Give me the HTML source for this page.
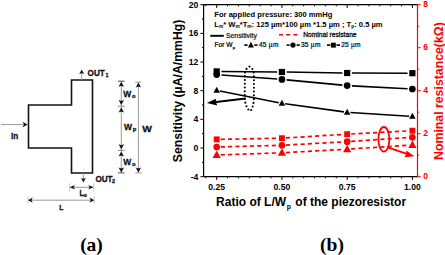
<!DOCTYPE html>
<html><head><meta charset="utf-8">
<style>
html,body{margin:0;padding:0;background:#fff;width:445px;height:255px;overflow:hidden}
svg{display:block}
text{font-family:"Liberation Sans",sans-serif}
.serif{font-family:"Liberation Serif",serif}
</style></head><body>
<svg width="445" height="255" viewBox="0 0 445 255">
<!-- ============ (a) diagram ============ -->
<path d="M28.5 105 H71.5 V80 H92.5 V173 H71.5 V148 H28.5 Z" fill="none" stroke="#111" stroke-width="1.6"/>
<!-- In arrow -->
<line x1="1" y1="124.6" x2="27" y2="124.6" stroke="#999" stroke-width="1"/>
<path d="M22.5 121.8 L27.5 124.6 L22.5 127.4 L24 124.6 Z" fill="#111"/>
<text x="11" y="139" font-size="9.6" font-weight="bold" fill="#111" stroke="#111" stroke-width="0.3" textLength="7.2" lengthAdjust="spacingAndGlyphs">In</text>
<!-- OUT1 -->
<line x1="81.7" y1="80" x2="81.7" y2="71" stroke="#999" stroke-width="1"/>
<path d="M79.2 74.2 L81.7 69.6 L84.2 74.2 L81.7 73 Z" fill="#111"/>
<text x="87.6" y="75.5" font-size="8.3" font-weight="bold" fill="#111" stroke="#111" stroke-width="0.3" textLength="17.1" lengthAdjust="spacingAndGlyphs">OUT</text>
<text x="105.6" y="76.5" font-size="5.4" font-weight="bold" fill="#111" stroke="#111" stroke-width="0.3">1</text>
<!-- OUT2 -->
<line x1="83.4" y1="173" x2="83.4" y2="181" stroke="#999" stroke-width="1"/>
<path d="M80.9 177.8 L83.4 182.4 L85.9 177.8 L83.4 179 Z" fill="#111"/>
<text x="95.4" y="181.8" font-size="8.3" font-weight="bold" fill="#111" stroke="#111" stroke-width="0.3" textLength="17.1" lengthAdjust="spacingAndGlyphs">OUT</text>
<text x="111.9" y="182.5" font-size="5.4" font-weight="bold" fill="#111" stroke="#111" stroke-width="0.3">2</text>
<!-- Lo dimension -->
<line x1="70" y1="187.3" x2="93" y2="187.3" stroke="#888" stroke-width="0.9"/>
<path d="M69.9 187.3 L75 185 L73.6 187.3 L75 189.6 Z" fill="#111"/>
<path d="M93.4 187.3 L88.3 185 L89.7 187.3 L88.3 189.6 Z" fill="#111"/>
<line x1="69.6" y1="183.2" x2="69.6" y2="191.4" stroke="#bbb" stroke-width="0.8"/>
<line x1="93.6" y1="183.2" x2="93.6" y2="191.4" stroke="#bbb" stroke-width="0.8"/>
<text x="79.6" y="196" font-size="8.6" font-weight="bold" fill="#111" stroke="#111" stroke-width="0.3" textLength="4.4" lengthAdjust="spacingAndGlyphs">L</text>
<text x="83.6" y="196.6" font-size="5.6" font-weight="bold" fill="#111" stroke="#111" stroke-width="0.3">o</text>
<!-- L dimension -->
<line x1="28" y1="200.2" x2="94" y2="200.2" stroke="#999" stroke-width="1"/>
<path d="M28 200.2 L32.8 197.6 L31.4 200.2 L32.8 202.8 Z" fill="#111"/>
<path d="M94.2 200.2 L89.4 197.6 L90.8 200.2 L89.4 202.8 Z" fill="#111"/>
<line x1="28" y1="196.3" x2="28" y2="203.5" stroke="#bbb" stroke-width="0.8"/>
<line x1="94.2" y1="196.3" x2="94.2" y2="203.5" stroke="#bbb" stroke-width="0.8"/>
<text x="59.2" y="209.8" font-size="7.5" font-weight="bold" fill="#111" stroke="#111" stroke-width="0.3" textLength="4.2" lengthAdjust="spacingAndGlyphs">L</text>
<!-- W dimensions -->
<line x1="121.3" y1="81.3" x2="121.3" y2="172.9" stroke="#9a9a9a" stroke-width="1"/>
<line x1="118.0" y1="81.2" x2="124.6" y2="81.2" stroke="#444" stroke-width="1"/>
<line x1="118.0" y1="106.2" x2="124.6" y2="106.2" stroke="#888" stroke-width="1"/>
<line x1="118.0" y1="150.4" x2="124.6" y2="150.4" stroke="#888" stroke-width="1"/>
<line x1="118.0" y1="172.9" x2="124.6" y2="172.9" stroke="#555" stroke-width="1"/>
<g fill="#111">
<path d="M121.3 81.8 L118.60 86.80 L121.3 85.70 L124.00 86.80 Z"/>
<path d="M121.3 104.9 L118.60 99.90 L121.3 101.00 L124.00 99.90 Z"/>
<path d="M121.3 107.5 L118.60 112.50 L121.3 111.40 L124.00 112.50 Z"/>
<path d="M121.3 149.2 L118.60 144.20 L121.3 145.30 L124.00 144.20 Z"/>
<path d="M121.3 151.6 L118.60 156.60 L121.3 155.50 L124.00 156.60 Z"/>
<path d="M121.3 172.4 L118.60 167.40 L121.3 168.50 L124.00 167.40 Z"/>
</g>
<line x1="138.4" y1="82.1" x2="138.4" y2="172.9" stroke="#9a9a9a" stroke-width="1"/>
<line x1="135.20000000000002" y1="82.1" x2="141.6" y2="82.1" stroke="#999" stroke-width="1"/>
<line x1="135.20000000000002" y1="172.9" x2="141.6" y2="172.9" stroke="#999" stroke-width="1"/>
<g fill="#111">
<path d="M138.4 82.6 L135.70 87.60 L138.4 86.50 L141.10 87.60 Z"/>
<path d="M138.4 172.4 L135.70 167.40 L138.4 168.50 L141.10 167.40 Z"/>
</g>
<text x="123.3" y="97" font-size="9.2" font-weight="bold" fill="#111" stroke="#111" stroke-width="0.3" textLength="8" lengthAdjust="spacingAndGlyphs">W</text>
<text x="132" y="97.6" font-size="5.8" font-weight="bold" fill="#111" stroke="#111" stroke-width="0.3">o</text>
<text x="124.1" y="130.2" font-size="9.2" font-weight="bold" fill="#111" stroke="#111" stroke-width="0.3" textLength="8" lengthAdjust="spacingAndGlyphs">W</text>
<text x="132.8" y="131" font-size="5.8" font-weight="bold" fill="#111" stroke="#111" stroke-width="0.3">p</text>
<text x="123.3" y="165.2" font-size="9.2" font-weight="bold" fill="#111" stroke="#111" stroke-width="0.3" textLength="8" lengthAdjust="spacingAndGlyphs">W</text>
<text x="132" y="165.8" font-size="5.8" font-weight="bold" fill="#111" stroke="#111" stroke-width="0.3">o</text>
<text x="142.3" y="131.6" font-size="9" font-weight="bold" fill="#111" stroke="#111" stroke-width="0.3" textLength="9.6" lengthAdjust="spacingAndGlyphs">W</text>

<line x1="205.83" y1="176.7" x2="205.83" y2="178.29999999999998" stroke="#000" stroke-width="1"/>
<line x1="205.83" y1="4.7" x2="205.83" y2="6.300000000000001" stroke="#000" stroke-width="1"/>
<line x1="216.70" y1="176.7" x2="216.70" y2="179.89999999999998" stroke="#000" stroke-width="1"/>
<line x1="216.70" y1="4.7" x2="216.70" y2="7.9" stroke="#000" stroke-width="1"/>
<line x1="227.57" y1="176.7" x2="227.57" y2="178.29999999999998" stroke="#000" stroke-width="1"/>
<line x1="227.57" y1="4.7" x2="227.57" y2="6.300000000000001" stroke="#000" stroke-width="1"/>
<line x1="238.44" y1="176.7" x2="238.44" y2="178.29999999999998" stroke="#000" stroke-width="1"/>
<line x1="238.44" y1="4.7" x2="238.44" y2="6.300000000000001" stroke="#000" stroke-width="1"/>
<line x1="249.31" y1="176.7" x2="249.31" y2="178.29999999999998" stroke="#000" stroke-width="1"/>
<line x1="249.31" y1="4.7" x2="249.31" y2="6.300000000000001" stroke="#000" stroke-width="1"/>
<line x1="260.19" y1="176.7" x2="260.19" y2="178.29999999999998" stroke="#000" stroke-width="1"/>
<line x1="260.19" y1="4.7" x2="260.19" y2="6.300000000000001" stroke="#000" stroke-width="1"/>
<line x1="271.06" y1="176.7" x2="271.06" y2="178.29999999999998" stroke="#000" stroke-width="1"/>
<line x1="271.06" y1="4.7" x2="271.06" y2="6.300000000000001" stroke="#000" stroke-width="1"/>
<line x1="281.93" y1="176.7" x2="281.93" y2="179.89999999999998" stroke="#000" stroke-width="1"/>
<line x1="281.93" y1="4.7" x2="281.93" y2="7.9" stroke="#000" stroke-width="1"/>
<line x1="292.80" y1="176.7" x2="292.80" y2="178.29999999999998" stroke="#000" stroke-width="1"/>
<line x1="292.80" y1="4.7" x2="292.80" y2="6.300000000000001" stroke="#000" stroke-width="1"/>
<line x1="303.67" y1="176.7" x2="303.67" y2="178.29999999999998" stroke="#000" stroke-width="1"/>
<line x1="303.67" y1="4.7" x2="303.67" y2="6.300000000000001" stroke="#000" stroke-width="1"/>
<line x1="314.54" y1="176.7" x2="314.54" y2="178.29999999999998" stroke="#000" stroke-width="1"/>
<line x1="314.54" y1="4.7" x2="314.54" y2="6.300000000000001" stroke="#000" stroke-width="1"/>
<line x1="325.42" y1="176.7" x2="325.42" y2="178.29999999999998" stroke="#000" stroke-width="1"/>
<line x1="325.42" y1="4.7" x2="325.42" y2="6.300000000000001" stroke="#000" stroke-width="1"/>
<line x1="336.29" y1="176.7" x2="336.29" y2="178.29999999999998" stroke="#000" stroke-width="1"/>
<line x1="336.29" y1="4.7" x2="336.29" y2="6.300000000000001" stroke="#000" stroke-width="1"/>
<line x1="347.16" y1="176.7" x2="347.16" y2="179.89999999999998" stroke="#000" stroke-width="1"/>
<line x1="347.16" y1="4.7" x2="347.16" y2="7.9" stroke="#000" stroke-width="1"/>
<line x1="358.03" y1="176.7" x2="358.03" y2="178.29999999999998" stroke="#000" stroke-width="1"/>
<line x1="358.03" y1="4.7" x2="358.03" y2="6.300000000000001" stroke="#000" stroke-width="1"/>
<line x1="368.90" y1="176.7" x2="368.90" y2="178.29999999999998" stroke="#000" stroke-width="1"/>
<line x1="368.90" y1="4.7" x2="368.90" y2="6.300000000000001" stroke="#000" stroke-width="1"/>
<line x1="379.77" y1="176.7" x2="379.77" y2="178.29999999999998" stroke="#000" stroke-width="1"/>
<line x1="379.77" y1="4.7" x2="379.77" y2="6.300000000000001" stroke="#000" stroke-width="1"/>
<line x1="390.65" y1="176.7" x2="390.65" y2="178.29999999999998" stroke="#000" stroke-width="1"/>
<line x1="390.65" y1="4.7" x2="390.65" y2="6.300000000000001" stroke="#000" stroke-width="1"/>
<line x1="401.52" y1="176.7" x2="401.52" y2="178.29999999999998" stroke="#000" stroke-width="1"/>
<line x1="401.52" y1="4.7" x2="401.52" y2="6.300000000000001" stroke="#000" stroke-width="1"/>
<line x1="412.39" y1="176.7" x2="412.39" y2="179.89999999999998" stroke="#000" stroke-width="1"/>
<line x1="412.39" y1="4.7" x2="412.39" y2="7.9" stroke="#000" stroke-width="1"/>
<line x1="200.4" y1="176.70" x2="203.6" y2="176.70" stroke="#000" stroke-width="1"/>
<text x="198.29999999999998" y="179.80" font-size="8.6" font-weight="bold" text-anchor="end">-4</text>
<line x1="202.0" y1="162.37" x2="203.6" y2="162.37" stroke="#000" stroke-width="1"/>
<line x1="200.4" y1="148.03" x2="203.6" y2="148.03" stroke="#000" stroke-width="1"/>
<text x="198.29999999999998" y="151.13" font-size="8.6" font-weight="bold" text-anchor="end">0</text>
<line x1="202.0" y1="133.70" x2="203.6" y2="133.70" stroke="#000" stroke-width="1"/>
<line x1="200.4" y1="119.37" x2="203.6" y2="119.37" stroke="#000" stroke-width="1"/>
<text x="198.29999999999998" y="122.47" font-size="8.6" font-weight="bold" text-anchor="end">4</text>
<line x1="202.0" y1="105.03" x2="203.6" y2="105.03" stroke="#000" stroke-width="1"/>
<line x1="200.4" y1="90.70" x2="203.6" y2="90.70" stroke="#000" stroke-width="1"/>
<text x="198.29999999999998" y="93.80" font-size="8.6" font-weight="bold" text-anchor="end">8</text>
<line x1="202.0" y1="76.37" x2="203.6" y2="76.37" stroke="#000" stroke-width="1"/>
<line x1="200.4" y1="62.03" x2="203.6" y2="62.03" stroke="#000" stroke-width="1"/>
<text x="198.29999999999998" y="65.13" font-size="8.6" font-weight="bold" text-anchor="end">12</text>
<line x1="202.0" y1="47.70" x2="203.6" y2="47.70" stroke="#000" stroke-width="1"/>
<line x1="200.4" y1="33.37" x2="203.6" y2="33.37" stroke="#000" stroke-width="1"/>
<text x="198.29999999999998" y="36.47" font-size="8.6" font-weight="bold" text-anchor="end">16</text>
<line x1="202.0" y1="19.03" x2="203.6" y2="19.03" stroke="#000" stroke-width="1"/>
<line x1="200.4" y1="4.70" x2="203.6" y2="4.70" stroke="#000" stroke-width="1"/>
<text x="198.29999999999998" y="7.80" font-size="8.6" font-weight="bold" text-anchor="end">20</text>
<line x1="417.5" y1="176.70" x2="420.7" y2="176.70" stroke="#f00" stroke-width="1"/>
<text x="423.2" y="179.30" font-size="8.6" font-weight="bold" fill="#f00">0</text>
<line x1="417.5" y1="155.20" x2="419.1" y2="155.20" stroke="#f00" stroke-width="1"/>
<line x1="417.5" y1="133.70" x2="420.7" y2="133.70" stroke="#f00" stroke-width="1"/>
<text x="423.2" y="136.30" font-size="8.6" font-weight="bold" fill="#f00">2</text>
<line x1="417.5" y1="112.20" x2="419.1" y2="112.20" stroke="#f00" stroke-width="1"/>
<line x1="417.5" y1="90.70" x2="420.7" y2="90.70" stroke="#f00" stroke-width="1"/>
<text x="423.2" y="93.30" font-size="8.6" font-weight="bold" fill="#f00">4</text>
<line x1="417.5" y1="69.20" x2="419.1" y2="69.20" stroke="#f00" stroke-width="1"/>
<line x1="417.5" y1="47.70" x2="420.7" y2="47.70" stroke="#f00" stroke-width="1"/>
<text x="423.2" y="50.30" font-size="8.6" font-weight="bold" fill="#f00">6</text>
<line x1="417.5" y1="26.20" x2="419.1" y2="26.20" stroke="#f00" stroke-width="1"/>
<line x1="417.5" y1="4.70" x2="420.7" y2="4.70" stroke="#f00" stroke-width="1"/>
<text x="423.2" y="7.30" font-size="8.6" font-weight="bold" fill="#f00">8</text>
<text x="216.70" y="189.6" font-size="8.6" font-weight="bold" text-anchor="middle">0.25</text>
<text x="281.93" y="189.6" font-size="8.6" font-weight="bold" text-anchor="middle">0.50</text>
<text x="347.16" y="189.6" font-size="8.6" font-weight="bold" text-anchor="middle">0.75</text>
<text x="412.39" y="189.6" font-size="8.6" font-weight="bold" text-anchor="middle">1.00</text>
<path d="M203.6 176.7 V4.7 H417.5" fill="none" stroke="#000" stroke-width="1.2"/>
<line x1="203.6" y1="176.7" x2="417.5" y2="176.7" stroke="#000" stroke-width="1.2"/>
<line x1="417.5" y1="4.1000000000000005" x2="417.5" y2="177.29999999999998" stroke="#f00" stroke-width="1.2"/>
<line x1="219.84" y1="91.02" x2="278.79" y2="102.68" stroke="#000" stroke-width="1.6"/>
<line x1="285.10" y1="103.74" x2="343.99" y2="111.86" stroke="#000" stroke-width="1.6"/>
<line x1="350.35" y1="112.50" x2="409.20" y2="116.20" stroke="#000" stroke-width="1.6"/>
<line x1="221.49" y1="74.95" x2="277.14" y2="79.05" stroke="#000" stroke-width="1.6"/>
<line x1="286.71" y1="79.85" x2="342.38" y2="85.15" stroke="#000" stroke-width="1.6"/>
<line x1="351.95" y1="85.85" x2="407.60" y2="88.75" stroke="#000" stroke-width="1.6"/>
<line x1="221.50" y1="71.44" x2="277.13" y2="71.96" stroke="#000" stroke-width="1.6"/>
<line x1="286.73" y1="72.07" x2="342.36" y2="72.93" stroke="#000" stroke-width="1.6"/>
<line x1="351.96" y1="73.01" x2="407.59" y2="73.19" stroke="#000" stroke-width="1.6"/>
<path d="M216.70 86.87 L219.95 92.76 L213.44 92.76 Z" fill="#000"/>
<path d="M281.93 99.77 L285.19 105.66 L278.68 105.66 Z" fill="#000"/>
<path d="M347.16 108.77 L350.41 114.66 L343.90 114.66 Z" fill="#000"/>
<path d="M412.39 112.87 L415.64 118.76 L409.13 118.76 Z" fill="#000"/>
<circle cx="216.70" cy="74.60" r="3.35" fill="#000"/>
<circle cx="281.93" cy="79.40" r="3.35" fill="#000"/>
<circle cx="347.16" cy="85.60" r="3.35" fill="#000"/>
<circle cx="412.39" cy="89.00" r="3.35" fill="#000"/>
<rect x="213.60" y="68.30" width="6.2" height="6.2" fill="#000"/>
<rect x="278.83" y="68.90" width="6.2" height="6.2" fill="#000"/>
<rect x="344.06" y="69.90" width="6.2" height="6.2" fill="#000"/>
<rect x="409.29" y="70.10" width="6.2" height="6.2" fill="#000"/>
<line x1="220.70" y1="154.87" x2="277.93" y2="152.93" stroke="#f00" stroke-width="1.7" stroke-dasharray="4.2 3.1"/>
<line x1="285.92" y1="152.58" x2="343.17" y2="149.42" stroke="#f00" stroke-width="1.7" stroke-dasharray="4.2 3.1"/>
<line x1="351.15" y1="148.94" x2="408.40" y2="145.26" stroke="#f00" stroke-width="1.7" stroke-dasharray="4.2 3.1"/>
<line x1="220.70" y1="146.90" x2="277.93" y2="145.40" stroke="#f00" stroke-width="1.7" stroke-dasharray="4.2 3.1"/>
<line x1="285.92" y1="145.08" x2="343.17" y2="141.92" stroke="#f00" stroke-width="1.7" stroke-dasharray="4.2 3.1"/>
<line x1="351.15" y1="141.43" x2="408.40" y2="137.57" stroke="#f00" stroke-width="1.7" stroke-dasharray="4.2 3.1"/>
<line x1="220.70" y1="139.33" x2="277.93" y2="138.27" stroke="#f00" stroke-width="1.7" stroke-dasharray="4.2 3.1"/>
<line x1="285.92" y1="137.96" x2="343.17" y2="134.44" stroke="#f00" stroke-width="1.7" stroke-dasharray="4.2 3.1"/>
<line x1="351.15" y1="133.99" x2="408.40" y2="130.91" stroke="#f00" stroke-width="1.7" stroke-dasharray="4.2 3.1"/>
<path d="M216.70 150.55 L220.79 157.96 L212.60 157.96 Z" fill="#f00"/>
<path d="M281.93 148.35 L286.03 155.76 L277.83 155.76 Z" fill="#f00"/>
<path d="M347.16 144.75 L351.25 152.16 L343.06 152.16 Z" fill="#f00"/>
<path d="M412.39 140.55 L416.49 147.96 L408.29 147.96 Z" fill="#f00"/>
<circle cx="216.70" cy="147.00" r="3.35" fill="#f00"/>
<circle cx="281.93" cy="145.30" r="3.35" fill="#f00"/>
<circle cx="347.16" cy="141.70" r="3.35" fill="#f00"/>
<circle cx="412.39" cy="137.30" r="3.35" fill="#f00"/>
<rect x="213.75" y="136.45" width="5.9" height="5.9" fill="#f00"/>
<rect x="278.98" y="135.25" width="5.9" height="5.9" fill="#f00"/>
<rect x="344.21" y="131.25" width="5.9" height="5.9" fill="#f00"/>
<rect x="409.44" y="127.75" width="5.9" height="5.9" fill="#f00"/>
<circle cx="249.50" cy="66.60" r="1.05" fill="#000"/><circle cx="246.50" cy="68.92" r="1.05" fill="#000"/><circle cx="245.04" cy="72.40" r="1.05" fill="#000"/><circle cx="244.80" cy="76.17" r="1.05" fill="#000"/><circle cx="244.80" cy="79.96" r="1.05" fill="#000"/><circle cx="244.80" cy="83.75" r="1.05" fill="#000"/><circle cx="244.80" cy="87.54" r="1.05" fill="#000"/><circle cx="244.80" cy="91.33" r="1.05" fill="#000"/><circle cx="244.80" cy="95.12" r="1.05" fill="#000"/><circle cx="244.90" cy="98.90" r="1.05" fill="#000"/><circle cx="245.35" cy="102.66" r="1.05" fill="#000"/><circle cx="246.45" cy="106.29" r="1.05" fill="#000"/><circle cx="248.33" cy="109.56" r="1.05" fill="#000"/><circle cx="251.12" cy="109.96" r="1.05" fill="#000"/><circle cx="252.68" cy="106.57" r="1.05" fill="#000"/><circle cx="253.50" cy="102.89" r="1.05" fill="#000"/><circle cx="253.90" cy="99.13" r="1.05" fill="#000"/><circle cx="253.90" cy="95.34" r="1.05" fill="#000"/><circle cx="253.90" cy="91.55" r="1.05" fill="#000"/><circle cx="253.90" cy="87.76" r="1.05" fill="#000"/><circle cx="253.90" cy="83.97" r="1.05" fill="#000"/><circle cx="253.90" cy="80.18" r="1.05" fill="#000"/><circle cx="253.90" cy="76.39" r="1.05" fill="#000"/><circle cx="253.61" cy="72.61" r="1.05" fill="#000"/><circle cx="252.41" cy="69.02" r="1.05" fill="#000"/>
<line x1="245.6" y1="98.4" x2="214" y2="102.3" stroke="#000" stroke-width="2"/>
<path d="M206.8 103 L215.9 98.7 L215.9 102.1 L217.3 105.4 Z" fill="#000"/>
<ellipse cx="383.85" cy="139.3" rx="5.5" ry="12.3" fill="none" stroke="#f00" stroke-width="1.8"/>
<line x1="387.6" y1="147.3" x2="407" y2="153.8" stroke="#f00" stroke-width="1.9"/>
<path d="M414.4 156.3 L406.4 150.6 L406.3 153.8 L404.4 157.2 Z" fill="#f00"/>
<text x="214.3" y="17.0" font-size="7.6" font-weight="bold">For applied pressure: 300 mmHg</text>
<text x="214.3" y="26.6" font-size="7.6" font-weight="bold">L<tspan font-size="4.8" dy="1.5">m</tspan><tspan dy="-1.5">* W</tspan><tspan font-size="4.8" dy="1.5">m</tspan><tspan dy="-1.5">*T</tspan><tspan font-size="4.8" dy="1.5">m</tspan><tspan dy="-1.5">: 125 µm*100 µm *1.5 µm ; T</tspan><tspan font-size="4.8" dy="1.5">p</tspan><tspan dy="-1.5">: 0.5 µm</tspan></text>
<line x1="210.3" y1="35.8" x2="223.8" y2="35.8" stroke="#000" stroke-width="1.9"/>
<text x="225.9" y="37.7" font-size="6.9" fill="#111" stroke="#111" stroke-width="0.22">Sensitivity</text>
<line x1="279" y1="34.7" x2="298" y2="34.7" stroke="#f00" stroke-width="1.6" stroke-dasharray="4 3.2"/>
<text x="303.3" y="36.9" font-size="6.67" fill="#111" stroke="#111" stroke-width="0.3">Nominal resistane</text>
<text x="214.5" y="47.2" font-size="6.6" fill="#000" stroke="#000" stroke-width="0.22">For W<tspan font-size="4.4" dy="2.0" dx="0.4">p</tspan></text>
<line x1="244.2" y1="45.1" x2="247.6" y2="45.1" stroke="#000" stroke-width="1.6"/>
<line x1="254.2" y1="45.1" x2="257.5" y2="45.1" stroke="#000" stroke-width="1.6"/>
<path d="M250.9 41.8 L253.9 47.4 L247.9 47.4 Z" fill="#000"/>
<text x="258.9" y="46.9" font-size="6.6" fill="#000" stroke="#000" stroke-width="0.2" textLength="19.5">45 µm</text>
<line x1="286.6" y1="45.1" x2="289.6" y2="45.1" stroke="#000" stroke-width="1.6"/>
<line x1="296.6" y1="45.1" x2="299.8" y2="45.1" stroke="#000" stroke-width="1.6"/>
<circle cx="293" cy="45.1" r="2.6" fill="#000"/>
<text x="300.9" y="46.9" font-size="6.6" fill="#000" stroke="#000" stroke-width="0.2" textLength="19.5">35 µm</text>
<line x1="327" y1="45.1" x2="330.4" y2="45.1" stroke="#000" stroke-width="1.6"/>
<line x1="336.4" y1="45.1" x2="340" y2="45.1" stroke="#000" stroke-width="1.6"/>
<rect x="330.9" y="42.7" width="4.9" height="4.9" fill="#000"/>
<text x="341.3" y="46.9" font-size="6.6" fill="#000" stroke="#000" stroke-width="0.2" textLength="19.1">25 µm</text>
<text transform="translate(182.0,90.9) rotate(-90)" font-size="12.25" font-weight="bold" text-anchor="middle">Sensitivity (µA/A/mmHg)</text>
<text transform="translate(442.6,91.1) rotate(-90)" font-size="12.3" font-weight="bold" text-anchor="middle" fill="#f00">Nominal resistance(kΩ)</text>
<text x="216.1" y="205.5" font-size="12" font-weight="bold">Ratio of L/W<tspan font-size="6.8" dy="3.6" dx="0.6">p</tspan><tspan dy="-3.6" dx="1.2"> of the piezoresistor</tspan></text>
<text class="serif" x="91.5" y="251.2" font-size="19.5" font-weight="bold" text-anchor="middle">(a)</text>
<text class="serif" x="332" y="251.2" font-size="19.5" font-weight="bold" text-anchor="middle">(b)</text>
</svg>
</body></html>
